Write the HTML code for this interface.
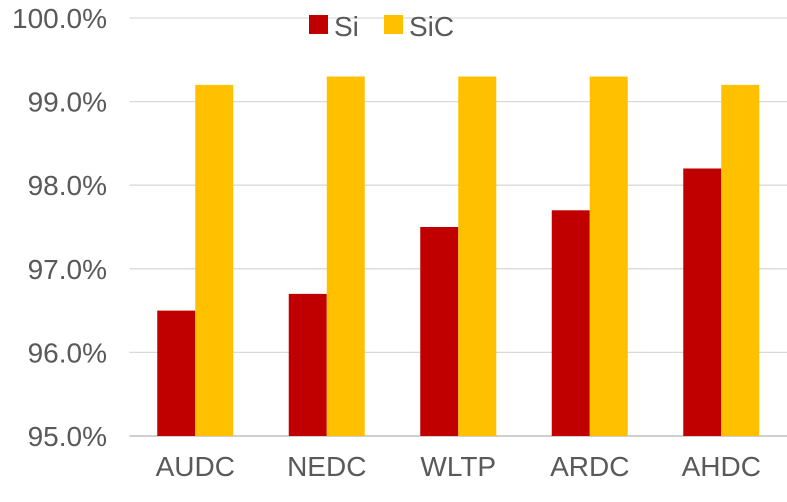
<!DOCTYPE html>
<html><head><meta charset="utf-8"><style>
html,body{margin:0;padding:0;background:#fff;}
svg text{font-family:"Liberation Sans",sans-serif;fill:#595959;}
</style></head><body>
<svg id="chart" width="787" height="497" viewBox="0 0 787 497" xmlns="http://www.w3.org/2000/svg">
<g id="grid"></g><g id="bars"></g><g id="labels"></g>
<g>
<rect x="309" y="15" width="19" height="19" fill="#C00000"/>
<text x="334" y="36" font-size="28">Si</text>
<rect x="384" y="15" width="19" height="19" fill="#FFC000"/>
<text x="409" y="36" font-size="28">SiC</text>
</g>
</svg>
<script>
const categories=["AUDC","NEDC","WLTP","ARDC","AHDC"];
const siValues=[96.5,96.7,97.5,97.7,98.2];
const sicValues=[99.2,99.3,99.3,99.3,99.2];
const yTicks=[95,96,97,98,99,100];
const yMin=95,yMax=100,plotTop=18,plotBottom=436,plotLeft=129.5,plotRight=787;
const NS="http://www.w3.org/2000/svg";
function y(v){return plotBottom-(v-yMin)/(yMax-yMin)*(plotBottom-plotTop);}
const band=(plotRight-plotLeft)/categories.length;
function xc(i){return plotLeft+band*(i+0.5);}
function mk(tag,attrs,parent){const e=document.createElementNS(NS,tag);for(const k in attrs)e.setAttribute(k,attrs[k]);document.getElementById(parent).appendChild(e);return e;}
yTicks.forEach(t=>{
  if(t>yMin){const l=mk("line",{x1:plotLeft,x2:plotRight,y1:y(t),y2:y(t),stroke:"#D9D9D9","stroke-width":1.3},"grid");
  
  }
  const tx=mk("text",{x:107,y:y(t)+10,"font-size":28,"text-anchor":"end"},"labels");
  tx.textContent=t.toFixed(1)+"%";
  
  
});
const ax=mk("line",{x1:plotLeft,x2:plotRight,y1:plotBottom,y2:plotBottom,stroke:"#BFBFBF","stroke-width":1.5},"grid");


const bw=38;
categories.forEach((c,i)=>{
  const b1=mk("rect",{x:xc(i)-bw,y:y(siValues[i]),width:bw,height:plotBottom-y(siValues[i]),fill:"#C00000"},"bars");
  
  
  const b2=mk("rect",{x:xc(i),y:y(sicValues[i]),width:bw,height:plotBottom-y(sicValues[i]),fill:"#FFC000"},"bars");
  
  
  const t=mk("text",{x:xc(i),y:476,"font-size":28,"text-anchor":"middle"},"labels");
  t.textContent=c;
  
  
});
</script>
</body></html>
